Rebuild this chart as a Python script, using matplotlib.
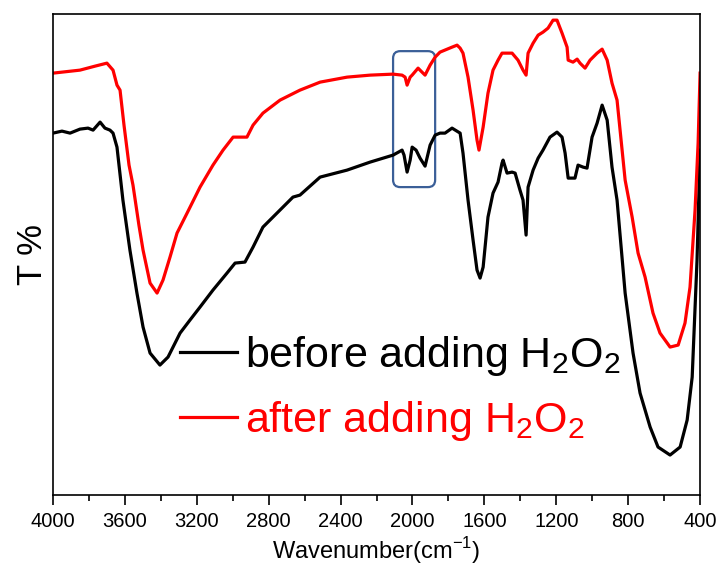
import matplotlib.pyplot as plt
from matplotlib.patches import FancyBboxPatch
from matplotlib.ticker import MultipleLocator

plt.rcParams["font.family"] = ["Liberation Sans", "DejaVu Sans"]
plt.rcParams["mathtext.fontset"] = "custom"
plt.rcParams["mathtext.rm"] = "Liberation Sans"

# FTIR spectra, wavenumber (cm-1) and transmittance (arb. units)
wn_before = [4000, 3950, 3905, 3850, 3805, 3777, 3738, 3711, 3683, 3666,
             3644, 3611, 3572, 3533, 3499, 3460, 3405, 3360, 3293, 3238,
             3182, 3110, 3032, 2987, 2932, 2887, 2832, 2754, 2665, 2626,
             2514, 2364, 2236, 2108, 2058, 2047, 2030, 2013, 2002, 1980,
             1958, 1930, 1902, 1874, 1847, 1819, 1780, 1735, 1719, 1691,
             1663, 1641, 1624, 1607, 1580, 1552, 1524, 1502, 1496, 1474,
             1446, 1429, 1402, 1385, 1368, 1357, 1329, 1301, 1274, 1235,
             1196, 1168, 1151, 1134, 1096, 1079, 1051, 1029, 1001, 973,
             945, 917, 890, 862, 817, 773, 734, 678, 634, 567,
             511, 472, 444, 417, 400]
t_before = [362, 364, 362, 366, 367, 365, 373, 367, 365, 362,
            348, 295, 245, 202, 168, 142, 130, 138, 162, 175,
            188, 205, 222, 232, 233, 248, 268, 282, 298, 300,
            318, 325, 333, 340, 345, 340, 323, 335, 348, 345,
            337, 329, 350, 360, 362, 362, 367, 362, 342, 295,
            255, 225, 217, 228, 278, 302, 313, 332, 335, 322,
            323, 322, 305, 295, 260, 308, 325, 337, 345, 358,
            363, 358, 342, 317, 317, 330, 328, 327, 358, 372,
            390, 375, 328, 295, 202, 142, 102, 68, 48, 40,
            48, 75, 118, 235, 345]

wn_after = [4000, 3850, 3766, 3700, 3666, 3644, 3627, 3605, 3577, 3555,
            3522, 3499, 3460, 3421, 3388, 3349, 3310, 3254, 3182, 3110,
            3054, 2998, 2921, 2887, 2832, 2737, 2626, 2514, 2364, 2236,
            2108, 2058, 2041, 2030, 2013, 2002, 1969, 1947, 1930, 1902,
            1874, 1847, 1780, 1752, 1735, 1719, 1691, 1663, 1641, 1630,
            1607, 1580, 1552, 1524, 1502, 1446, 1413, 1385, 1368, 1357,
            1329, 1301, 1274, 1246, 1218, 1196, 1168, 1140, 1134, 1107,
            1084, 1068, 1040, 1012, 973, 945, 917, 890, 862, 817,
            778, 745, 706, 662, 623, 567, 522, 484, 456, 428,
            411, 400]
t_after = [422, 425, 429, 432, 425, 410, 405, 370, 330, 310,
           270, 245, 212, 202, 215, 238, 262, 282, 308, 330,
           345, 358, 358, 370, 382, 395, 405, 413, 418, 420,
           421, 420, 418, 410, 418, 420, 427, 423, 420, 430,
           438, 443, 448, 450, 447, 442, 418, 385, 355, 345,
           368, 402, 425, 435, 442, 442, 435, 425, 420, 442,
           452, 460, 463, 467, 475, 475, 462, 448, 435, 433,
           436, 432, 427, 435, 442, 446, 435, 412, 395, 315,
           278, 242, 218, 182, 162, 148, 150, 172, 208, 285,
           352, 422]

labels = ["before adding H$_{\\mathregular{2}}$O$_{\\mathregular{2}}$",
          "after adding H$_{\\mathregular{2}}$O$_{\\mathregular{2}}$"]

fig = plt.figure(figsize=(7.21, 5.66), dpi=100)
ax = fig.add_axes([0.0735, 0.1254, 0.8975, 0.8496])

ax.plot(wn_before, t_before, color="black", lw=2.3, label=labels[0])
ax.plot(wn_after, t_after, color="red", lw=2.3, label=labels[1])

# highlight the weak bands around 2000 cm-1
box = FancyBboxPatch((1874, 308), 234, 136, boxstyle="round,pad=0,rounding_size=40",
                     fill=False, ec="#3b5f98", lw=1.6, mutation_aspect=0.18)
ax.add_patch(box)

ax.set_xlim(4000, 400)
ax.set_ylim(0, 481)
ax.xaxis.set_major_locator(MultipleLocator(400))
ax.xaxis.set_minor_locator(MultipleLocator(200))
ax.tick_params(axis="x", which="major", direction="out", length=7, width=1.2, labelsize=14.5, pad=5)
ax.tick_params(axis="x", which="minor", direction="out", length=4, width=1.2)
ax.set_yticks([])
for sp in ax.spines.values():
    sp.set_linewidth(1.2)

ax.set_xlabel("Wavenumber(cm$^{\\mathregular{-1}}$)", fontsize=17, labelpad=3)
ax.set_ylabel("T %", fontsize=25, labelpad=3)

ax.legend(loc="upper left", bbox_to_anchor=(0.196, 0.335), frameon=False, fontsize=31,
          handlelength=1.33, handletextpad=0.19, labelspacing=0.48, borderaxespad=0,
          borderpad=0, labelcolor="linecolor")

fig.savefig("out.png", dpi=100)
